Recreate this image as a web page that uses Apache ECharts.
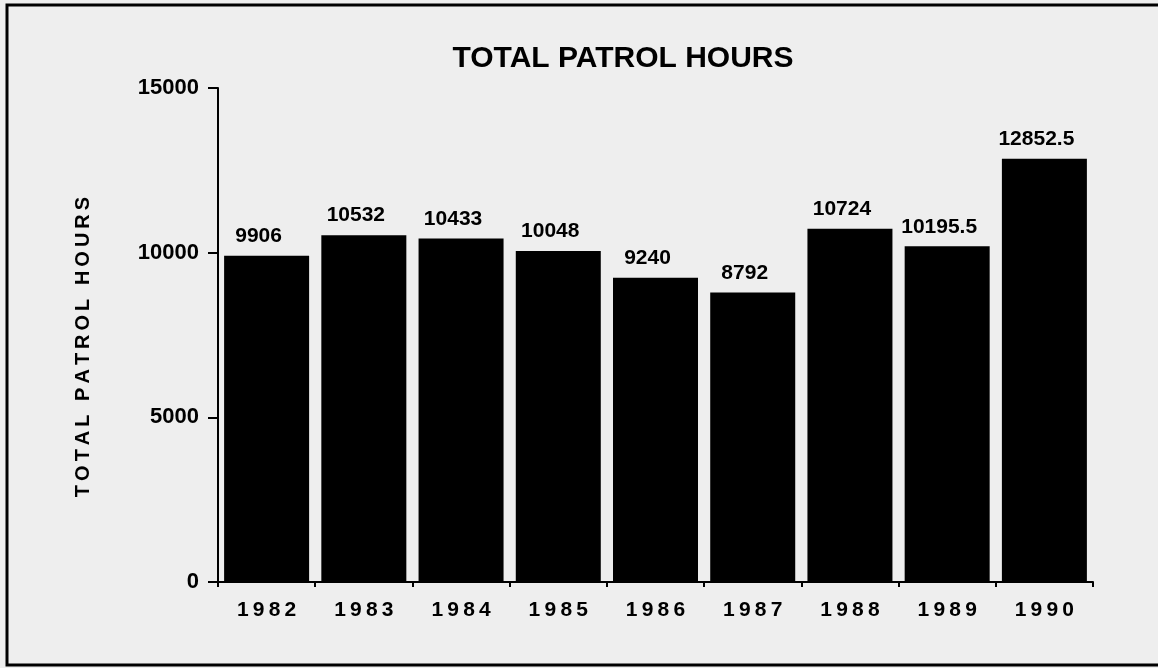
<!DOCTYPE html>
<html>
<head>
<meta charset="utf-8">
<title>Total Patrol Hours</title>
<script src="https://cdn.jsdelivr.net/npm/echarts@6/dist/echarts.min.js"></script>
<style>
  html, body { margin: 0; padding: 0; background: #eeeeee; }
  #chart { width: 1158px; height: 668px; }
</style>
</head>
<body>
<div id="chart"></div>
<script>
const years = ['1982', '1983', '1984', '1985', '1986', '1987', '1988', '1989', '1990']
const hours = [9906, 10532, 10433, 10048, 9240, 8792, 10724, 10195.5, 12852.5]
const yTicks = [0, 5000, 10000, 15000]

// spread characters a bit, the original uses letter-spaced type
const spaced = s => s.split('').join('\u2009')

const chart = echarts.init(document.getElementById('chart'))
chart.setOption({
  backgroundColor: '#eeeeee',
  animation: false,
  textStyle: { fontFamily: 'Liberation Sans, Arial, sans-serif', color: '#000' },
  title: {
    text: 'TOTAL PATROL HOURS',
    left: 618,
    top: 39,
    textAlign: 'center',
    textStyle: { fontSize: 30, fontWeight: 'bold', color: '#000' }
  },
  graphic: [
    {
      type: 'rect',
      shape: { x: 7, y: 5, width: 1160, height: 660 },
      style: { fill: 'none', stroke: '#000', lineWidth: 3 },
      silent: true
    }
  ],
  grid: { left: 218, right: 65, top: 88, bottom: 86 },
  xAxis: {
    type: 'category',
    data: years,
    axisLine: { lineStyle: { color: '#000', width: 2 } },
    axisTick: { show: true, length: 5, lineStyle: { color: '#000', width: 2 } },
    axisLabel: {
      margin: 18,
      fontSize: 21,
      fontWeight: 'bold',
      color: '#000',
      formatter: v => spaced(v)
    }
  },
  yAxis: {
    type: 'value',
    min: yTicks[0],
    max: yTicks[yTicks.length - 1],
    interval: yTicks[1] - yTicks[0],
    name: spaced('TOTAL PATROL HOURS'),
    nameLocation: 'middle',
    nameGap: 125,
    nameTextStyle: { fontSize: 20, fontWeight: 'bold', color: '#000', padding: [0, 24, 0, 0] },
    splitLine: { show: false },
    axisLine: { show: true, lineStyle: { color: '#000', width: 2 } },
    axisTick: { show: true, length: 10, lineStyle: { color: '#000', width: 2 } },
    axisLabel: {
      margin: 19,
      fontSize: 22,
      fontWeight: 'bold',
      color: '#000',
      formatter: v => String(v)
    }
  },
  series: [
    {
      type: 'bar',
      data: hours,
      barWidth: 85,
      itemStyle: { color: '#000' },
      label: {
        show: true,
        position: 'top',
        distance: 9,
        offset: [-8, 0],
        fontSize: 21,
        fontWeight: 'bold',
        color: '#000'
      }
    }
  ]
})
</script>
</body>
</html>
